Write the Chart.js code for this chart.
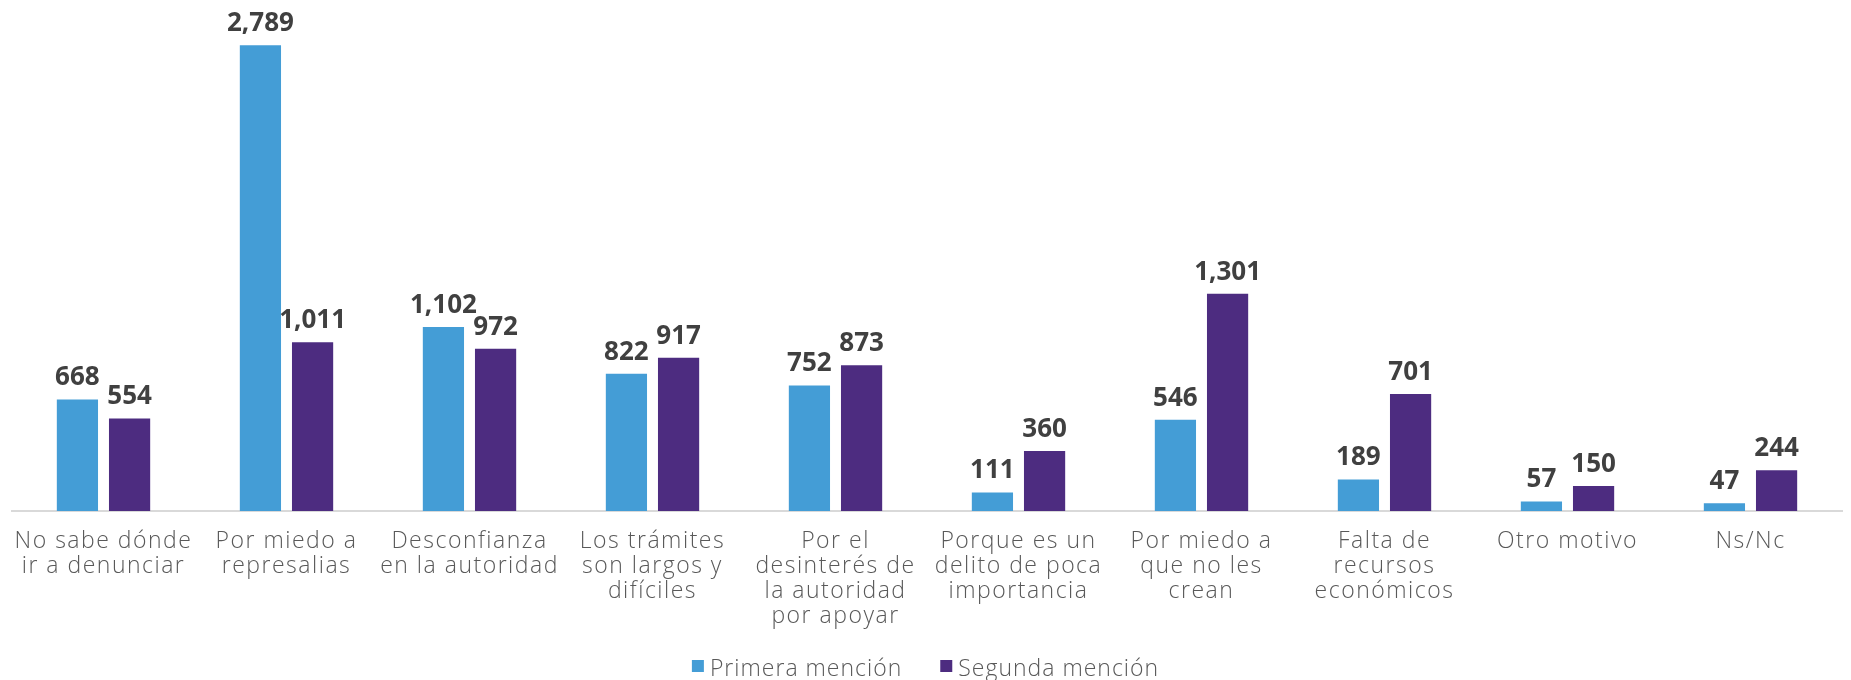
<!DOCTYPE html>
<html>
<head>
<meta charset="utf-8">
<script src="https://cdn.jsdelivr.net/npm/chart.js@4"></script>
<style>
  html, body { margin: 0; padding: 0; background: #ffffff; }
  #wrap { width: 1851px; height: 680px; }
</style>
</head>
<body>
<div id="wrap"><canvas id="chart" width="1851" height="680"></canvas></div>
<script>
const categories = [
  ['No sabe dónde', 'ir a denunciar'],
  ['Por miedo a', 'represalias'],
  ['Desconfianza', 'en la autoridad'],
  ['Los trámites', 'son largos y', 'difíciles'],
  ['Por el', 'desinterés de', 'la autoridad', 'por apoyar'],
  ['Porque es un', 'delito de poca', 'importancia'],
  ['Por miedo a', 'que no les', 'crean'],
  ['Falta de', 'recursos', 'económicos'],
  ['Otro motivo'],
  ['Ns/Nc']
]
const primeraMencion = [668, 2789, 1102, 822, 752, 111, 546, 189, 57, 47]
const segundaMencion = [554, 1011, 972, 917, 873, 360, 1301, 701, 150, 244]

const textGray = '#595959'
const lightFont = '"Open Sans"'

// wide light lettering for the axis labels
const wideText = {
  id: 'wideText',
  beforeDraw(chart) {
    chart.ctx.letterSpacing = '1.5px'
  },
  afterDatasetsDraw(chart) {
    chart.ctx.letterSpacing = '0px'
  }
}

// value labels on top of each bar
const barValueLabels = {
  id: 'barValueLabels',
  afterDatasetsDraw(chart) {
    const ctx = chart.ctx
    ctx.save()
    ctx.letterSpacing = '0px'
    ctx.font = '700 26px "Open Sans"'
    ctx.fillStyle = '#404040'
    ctx.textAlign = 'center'
    ctx.textBaseline = 'alphabetic'
    chart.data.datasets.forEach((ds, i) => {
      chart.getDatasetMeta(i).data.forEach((bar, j) => {
        ctx.fillText(ds.data[j].toLocaleString('en-US'), bar.x, bar.y - 14)
      })
    })
    ctx.restore()
  }
}

// legend drawn by hand so the swatch sits close to its text
const bottomLegend = {
  id: 'bottomLegend',
  afterDraw(chart) {
    const ctx = chart.ctx
    const box = 12, gap = 6, itemGap = 38, baseline = 676
    ctx.save()
    ctx.letterSpacing = '1px'
    ctx.font = '300 23px ' + lightFont
    ctx.textBaseline = 'alphabetic'
    ctx.textAlign = 'left'
    const items = chart.data.datasets.map(ds => ({
      text: ds.label,
      color: ds.backgroundColor,
      w: box + gap + ctx.measureText(ds.label).width
    }))
    const total = items.reduce((s, it) => s + it.w, 0) + itemGap * (items.length - 1)
    let x = (chart.width - total) / 2
    items.forEach(it => {
      ctx.fillStyle = it.color
      ctx.fillRect(x, baseline - 16, box, box)
      ctx.fillStyle = textGray
      ctx.fillText(it.text, x + box + gap, baseline)
      x += it.w + itemGap
    })
    ctx.restore()
  }
}

new Chart(document.getElementById('chart').getContext('2d'), {
  type: 'bar',
  data: {
    labels: categories,
    datasets: [{
      label: 'Primera mención',
      data: primeraMencion,
      backgroundColor: '#449DD6',
      categoryPercentage: 0.57,
      barPercentage: 0.79
    }, {
      label: 'Segunda mención',
      data: segundaMencion,
      backgroundColor: '#4D2C80',
      categoryPercentage: 0.57,
      barPercentage: 0.79
    }]
  },
  options: {
    responsive: false,
    animation: false,
    layout: {
      padding: { top: 10, left: 12, right: 9, bottom: 33 }
    },
    plugins: {
      legend: { display: false },
      tooltip: { enabled: false }
    },
    scales: {
      y: {
        display: false,
        min: 0,
        max: 3000
      },
      x: {
        grid: { display: true, drawOnChartArea: false, drawTicks: false },
        border: { display: true, color: '#D9D9D9', width: 2 },
        ticks: {
          color: textGray,
          padding: 18,
          maxRotation: 0,
          autoSkip: false,
          font: { family: lightFont, size: 23, weight: '300', lineHeight: '25px' }
        }
      }
    }
  },
  plugins: [wideText, barValueLabels, bottomLegend]
})
</script>
</body>
</html>
